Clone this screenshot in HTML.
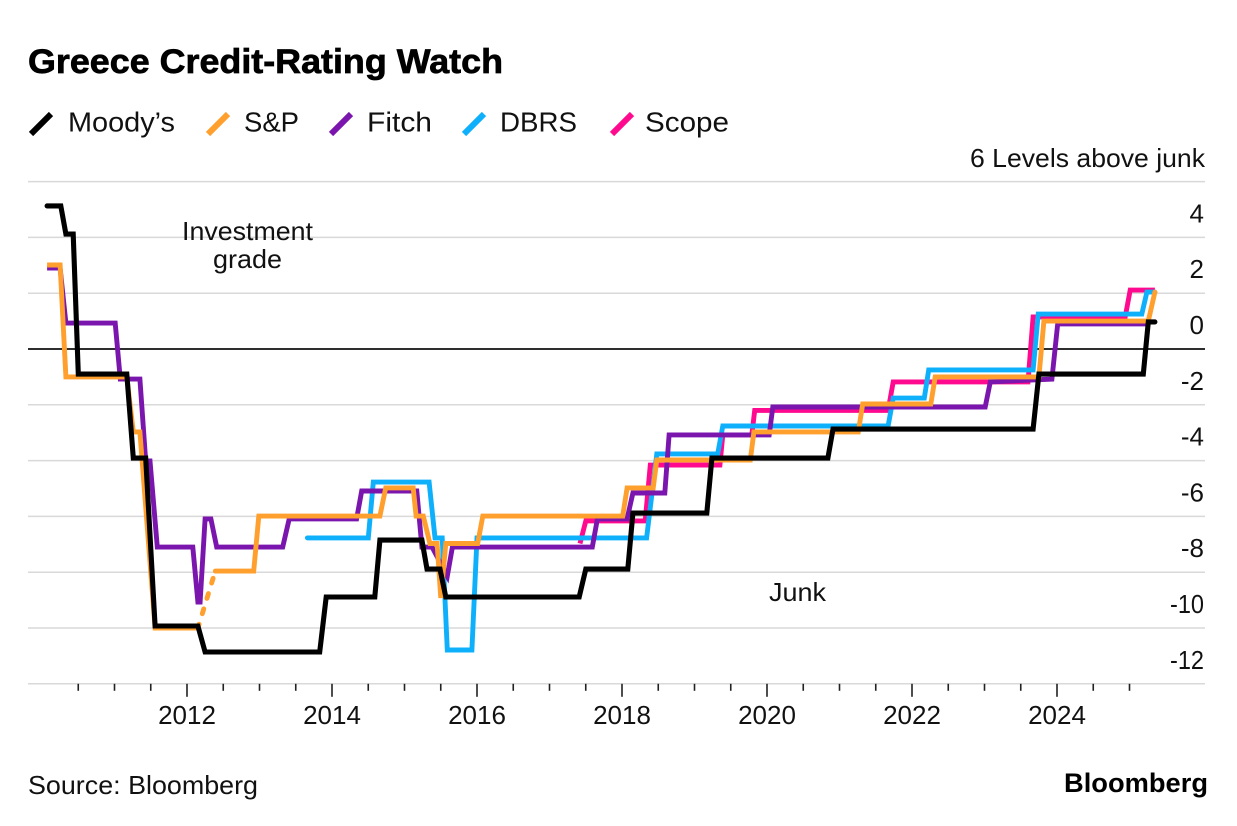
<!DOCTYPE html>
<html lang="en">
<head>
<meta charset="utf-8">
<title>Greece Credit-Rating Watch</title>
<style>
html,body{margin:0;padding:0;background:#fff;width:1237px;height:826px;overflow:hidden}
svg{display:block;font-family:"Liberation Sans",sans-serif;fill:#111}
</style>
</head>
<body>
<svg id="chart" xmlns="http://www.w3.org/2000/svg" width="1237" height="826" viewBox="0 0 1237 826">
  <rect width="1237" height="826" fill="#fff"/>
  <text x="28" y="73" font-size="34" font-weight="700" fill="#000" stroke="#000" stroke-width="0.7" textLength="475" lengthAdjust="spacingAndGlyphs">Greece Credit-Rating Watch</text>

  <g font-size="28">
    <g>
      <line x1="31" y1="134" x2="51" y2="114" stroke="#000" stroke-width="6"/>
      <text x="68" y="131.5" textLength="107" lengthAdjust="spacingAndGlyphs">Moody’s</text>
    </g>
    <g>
      <line x1="208" y1="134" x2="228" y2="114" stroke="#ff9f2e" stroke-width="6"/>
      <text x="244" y="131.5" textLength="55" lengthAdjust="spacingAndGlyphs">S&amp;P</text>
    </g>
    <g>
      <line x1="331" y1="134" x2="351" y2="114" stroke="#7a16ad" stroke-width="6"/>
      <text x="367" y="131.5" textLength="65" lengthAdjust="spacingAndGlyphs">Fitch</text>
    </g>
    <g>
      <line x1="464" y1="134" x2="484" y2="114" stroke="#0fb0fb" stroke-width="6"/>
      <text x="500" y="131.5" textLength="77" lengthAdjust="spacingAndGlyphs">DBRS</text>
    </g>
    <g>
      <line x1="612" y1="134" x2="632" y2="114" stroke="#ff0a8f" stroke-width="6"/>
      <text x="645" y="131.5" textLength="84" lengthAdjust="spacingAndGlyphs">Scope</text>
    </g>
  </g>

  <text x="970" y="167" font-size="26" textLength="235" lengthAdjust="spacingAndGlyphs">6 Levels above junk</text>

  <g id="grid"></g>
  <g id="yticks" font-size="26" text-anchor="end"></g>
  <g id="xticks" font-size="26" text-anchor="middle"></g>
  <g id="series" fill="none"></g>

  <text x="182" y="240" font-size="26" textLength="131" lengthAdjust="spacingAndGlyphs">Investment</text>
  <text x="213" y="268" font-size="26" textLength="69" lengthAdjust="spacingAndGlyphs">grade</text>
  <text x="769" y="601" font-size="26" textLength="57" lengthAdjust="spacingAndGlyphs">Junk</text>

  <text x="28" y="794" font-size="26" textLength="230" lengthAdjust="spacingAndGlyphs">Source: Bloomberg</text>
  <text x="1064" y="792" font-size="27" font-weight="700" fill="#000" textLength="144" lengthAdjust="spacingAndGlyphs">Bloomberg</text>
</svg>
<script>
var yTicks = [4, 2, 0, -2, -4, -6, -8, -10, -12];
var gridLevels = [6, 4, 2, -2, -4, -6, -8, -10, -12];
var xLabels = [2012, 2014, 2016, 2018, 2020, 2022, 2024];
var xMinorTicks = [2010.5, 2011, 2011.5, 2012.5, 2013, 2013.5, 2014.5, 2015, 2015.5, 2016.5, 2017, 2017.5, 2018.5, 2019, 2019.5, 2020.5, 2021, 2021.5, 2022.5, 2023, 2023.5, 2024.5, 2025];

var moodysDates = [2010.07, 2010.26, 2010.33, 2010.43, 2010.50, 2011.17, 2011.26, 2011.43, 2011.56, 2012.15, 2012.25, 2013.83, 2013.92, 2014.59, 2014.66, 2015.24, 2015.31, 2015.49, 2015.57, 2017.41, 2017.50, 2018.08, 2018.15, 2019.17, 2019.24, 2020.84, 2020.91, 2023.67, 2023.75, 2025.19, 2025.26, 2025.35];
var moodysValues = [5.13, 5.13, 4.12, 4.12, -0.90, -0.90, -3.91, -3.91, -9.93, -9.93, -10.86, -10.86, -8.89, -8.89, -6.85, -6.85, -7.89, -7.89, -8.89, -8.89, -7.89, -7.89, -5.88, -5.88, -3.91, -3.91, -2.87, -2.87, -0.90, -0.90, 0.97, 0.97];

var spDatesA = [2010.07, 2010.25, 2010.33, 2011.17, 2011.26, 2011.35, 2011.56, 2012.15];
var spValuesA = [3.01, 3.01, -1.0, -1.0, -2.97, -2.97, -10.0, -10.0];
var spGapDates = [2012.15, 2012.39];
var spGapValues = [-10.0, -7.96];
var spDatesB = [2012.39, 2012.92, 2012.99, 2014.66, 2014.74, 2015.12, 2015.16, 2015.26, 2015.35, 2015.45, 2015.50, 2015.57, 2016.01, 2016.08, 2018.01, 2018.07, 2018.43, 2018.48, 2019.77, 2019.82, 2021.26, 2021.32, 2022.26, 2022.32, 2023.75, 2023.82, 2025.26, 2025.35];
var spValuesB = [-7.96, -7.96, -5.99, -5.99, -4.98, -4.98, -5.99, -5.99, -6.97, -6.97, -8.92, -6.97, -6.97, -5.99, -5.99, -4.98, -4.98, -3.98, -3.98, -2.97, -2.97, -1.97, -1.97, -1.0, -1.0, 1.0, 1.0, 2.04];

var fitchDates = [2010.07, 2010.25, 2010.33, 2011.01, 2011.08, 2011.35, 2011.43, 2011.49, 2011.59, 2012.08, 2012.15, 2012.18, 2012.25, 2012.33, 2012.41, 2013.32, 2013.41, 2014.34, 2014.41, 2015.17, 2015.24, 2015.38, 2015.59, 2015.66, 2017.59, 2017.66, 2018.07, 2018.15, 2018.59, 2018.65, 2020.03, 2020.08, 2023.01, 2023.08, 2023.93, 2024.01, 2025.26];
var fitchValues = [2.90, 2.90, 0.93, 0.93, -1.08, -1.08, -4.01, -4.01, -7.10, -7.10, -9.07, -9.07, -6.09, -6.09, -7.10, -7.10, -6.09, -6.09, -5.09, -5.09, -7.10, -7.10, -8.14, -7.10, -7.10, -6.09, -6.09, -5.16, -5.16, -3.08, -3.08, -2.08, -2.08, -1.18, -1.08, 0.90, 0.90];

var dbrsDates = [2013.66, 2014.50, 2014.57, 2015.34, 2015.42, 2015.52, 2015.59, 2015.93, 2016.00, 2018.34, 2018.48, 2019.32, 2019.39, 2021.67, 2021.74, 2022.17, 2022.23, 2023.67, 2023.74, 2025.17, 2025.24, 2025.35];
var dbrsValues = [-6.77, -6.77, -4.77, -4.77, -6.77, -6.77, -10.79, -10.79, -6.77, -6.77, -3.76, -3.76, -2.76, -2.76, -1.76, -1.76, -0.75, -0.75, 1.25, 1.25, 2.04, 2.04];

var scopeDates = [2017.42, 2017.50, 2018.32, 2018.39, 2019.35, 2019.39, 2019.79, 2019.83, 2021.67, 2021.74, 2023.60, 2023.67, 2024.94, 2025.01, 2025.35];
var scopeValues = [-6.97, -6.16, -6.16, -4.16, -4.16, -3.08, -3.08, -2.2, -2.2, -1.18, -1.18, 1.15, 1.15, 2.11, 2.11];

var SVGNS = 'http://www.w3.org/2000/svg';
function xScale(year) { return 187 + (year - 2012) * 72.5; }
function yScale(value) { return 349 - value * 27.9; }
function make(tag, parent) {
  var el = document.createElementNS(SVGNS, tag);
  parent.appendChild(el);
  return el;
}
function pathFrom(dates, values) {
  var d = '';
  for (var i = 0; i < dates.length; i++) {
    d += (i ? 'L' : 'M') + xScale(dates[i]).toFixed(1) + ' ' + yScale(values[i]).toFixed(1);
  }
  return d;
}
function drawLine(parent, dates, values, color, width, name) {
  var p = make('path', parent);
  p.setAttribute('d', pathFrom(dates, values));
  p.setAttribute('stroke', color);
  p.setAttribute('stroke-width', width);
  p.setAttribute('stroke-linejoin', 'miter');
  
  
  return p;
}

var grid = document.getElementById('grid');
gridLevels.forEach(function (level) {
  var l = make('line', grid);
  l.setAttribute('x1', 28);
  l.setAttribute('x2', 1205);
  l.setAttribute('y1', yScale(level));
  l.setAttribute('y2', yScale(level));
  l.setAttribute('stroke', '#d9d9d9');
  l.setAttribute('stroke-width', 1.5);
  
  
});
var zero = make('line', grid);
zero.setAttribute('x1', 28);
zero.setAttribute('x2', 1205);
zero.setAttribute('y1', yScale(0));
zero.setAttribute('y2', yScale(0));
zero.setAttribute('stroke', '#111');
zero.setAttribute('stroke-width', 1.8);



var yG = document.getElementById('yticks');
yTicks.forEach(function (v) {
  var t = make('text', yG);
  t.setAttribute('x', 1204);
  t.setAttribute('y', yScale(v) - 15);
  t.textContent = v;
  if (v <= -10) {
    t.setAttribute('textLength', 34);
    t.setAttribute('lengthAdjust', 'spacingAndGlyphs');
  }
  
  
});

var xG = document.getElementById('xticks');
xMinorTicks.forEach(function (year) {
  var l = make('line', xG);
  l.setAttribute('x1', xScale(year));
  l.setAttribute('x2', xScale(year));
  l.setAttribute('y1', yScale(-12));
  l.setAttribute('y2', yScale(-12) + 7);
  l.setAttribute('stroke', '#222');
  l.setAttribute('stroke-width', 1.6);
  
  
});
xLabels.forEach(function (year) {
  var l = make('line', xG);
  l.setAttribute('x1', xScale(year));
  l.setAttribute('x2', xScale(year));
  l.setAttribute('y1', yScale(-12));
  l.setAttribute('y2', yScale(-12) + 13);
  l.setAttribute('stroke', '#222');
  l.setAttribute('stroke-width', 1.6);
  
  
  var t = make('text', xG);
  t.setAttribute('x', xScale(year));
  t.setAttribute('y', 724);
  t.textContent = year;
  
  
});

var s = document.getElementById('series');
var ORANGE = '#ff9f2e';
drawLine(s, scopeDates, scopeValues, '#ff0a8f', 4.9, 'line-scope');
drawLine(s, dbrsDates, dbrsValues, '#0fb0fb', 4.9, 'line-dbrs').setAttribute('stroke-linecap', 'round');
drawLine(s, fitchDates, fitchValues, '#7a16ad', 4.9, 'line-fitch');
drawLine(s, spDatesA, spValuesA, ORANGE, 4.9, 'line-sp-early');
var gap = drawLine(s, spGapDates, spGapValues, ORANGE, 4.9, 'line-sp-gap');
gap.setAttribute('stroke-dasharray', '5 11');
gap.setAttribute('stroke-dashoffset', '-15');
gap.setAttribute('stroke-linecap', 'round');
drawLine(s, spDatesB, spValuesB, ORANGE, 4.9, 'line-sp-late').setAttribute('stroke-linecap', 'round');
drawLine(s, moodysDates, moodysValues, '#000', 5.1, 'line-moodys').setAttribute('stroke-linecap', 'round');
</script>
</body>
</html>
